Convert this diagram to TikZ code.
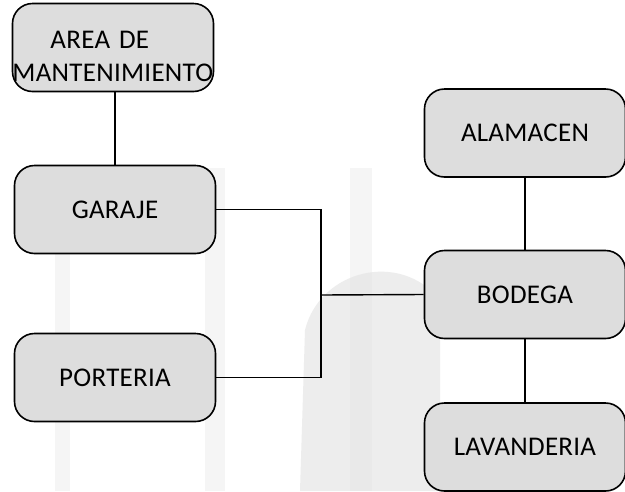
\documentclass[tikz,border=0pt]{standalone}
\usepackage{fontspec}
\setmainfont{Carlito}[LetterSpace=1]
\usepackage{tikz}
\usepackage{xcolor}
\definecolor{boxgray}{RGB}{221,221,221}
\definecolor{markgray}{RGB}{245,245,245}
\definecolor{shadegray}{RGB}{225,225,225}

\begin{document}
\begin{tikzpicture}[
    x=1pt, y=-1pt,
    area/.style={draw, line width=1.6pt, rounded corners=20pt, fill=boxgray, minimum width=201pt, minimum height=88pt, font=\fontsize{27}{33}\selectfont},
    link/.style={line width=1.4pt}
]
\clip (0,0) rectangle (625,491);
\fill[white] (0,0) rectangle (625,491);
% faint watermark behind the chart
\fill[markgray] (55,168) rectangle (70,491);
\fill[markgray] (205,168) rectangle (225,491);
\fill[markgray] (350,168) rectangle (372,491);
\fill[shadegray, opacity=0.6] (305,330) .. controls (320,270) and (400,250) .. (440,300) -- (440,491) -- (300,491) -- cycle;
% Left column
\node[area, align=left, text width=201pt, inner sep=0pt] (mant) at (113,47.5) {\rule{0pt}{36pt}\hspace*{38pt}AREA DE\\MANTENIMIENTO};
\node[area] (garaje) at (115,209.5) {GARAJE};
\node[area] (porteria) at (115,377.5) {PORTERIA};
% Right column
\node[area] (almacen) at (525,133) {ALAMACEN};
\node[area] (bodega) at (525,294.5) {BODEGA};
\node[area] (lavanderia) at (525,447) {LAVANDERIA};
% Junction
\coordinate (junta) at (321,295);

\draw[link] (mant.south -| garaje.north) -- (garaje.north);
\draw[link] (garaje.east) -| (junta) |- (porteria.east);
\draw[link] (junta) -- (bodega.west);
\draw[link] (almacen) -- (bodega);
\draw[link] (bodega) -- (lavanderia);
\end{tikzpicture}
\end{document}
